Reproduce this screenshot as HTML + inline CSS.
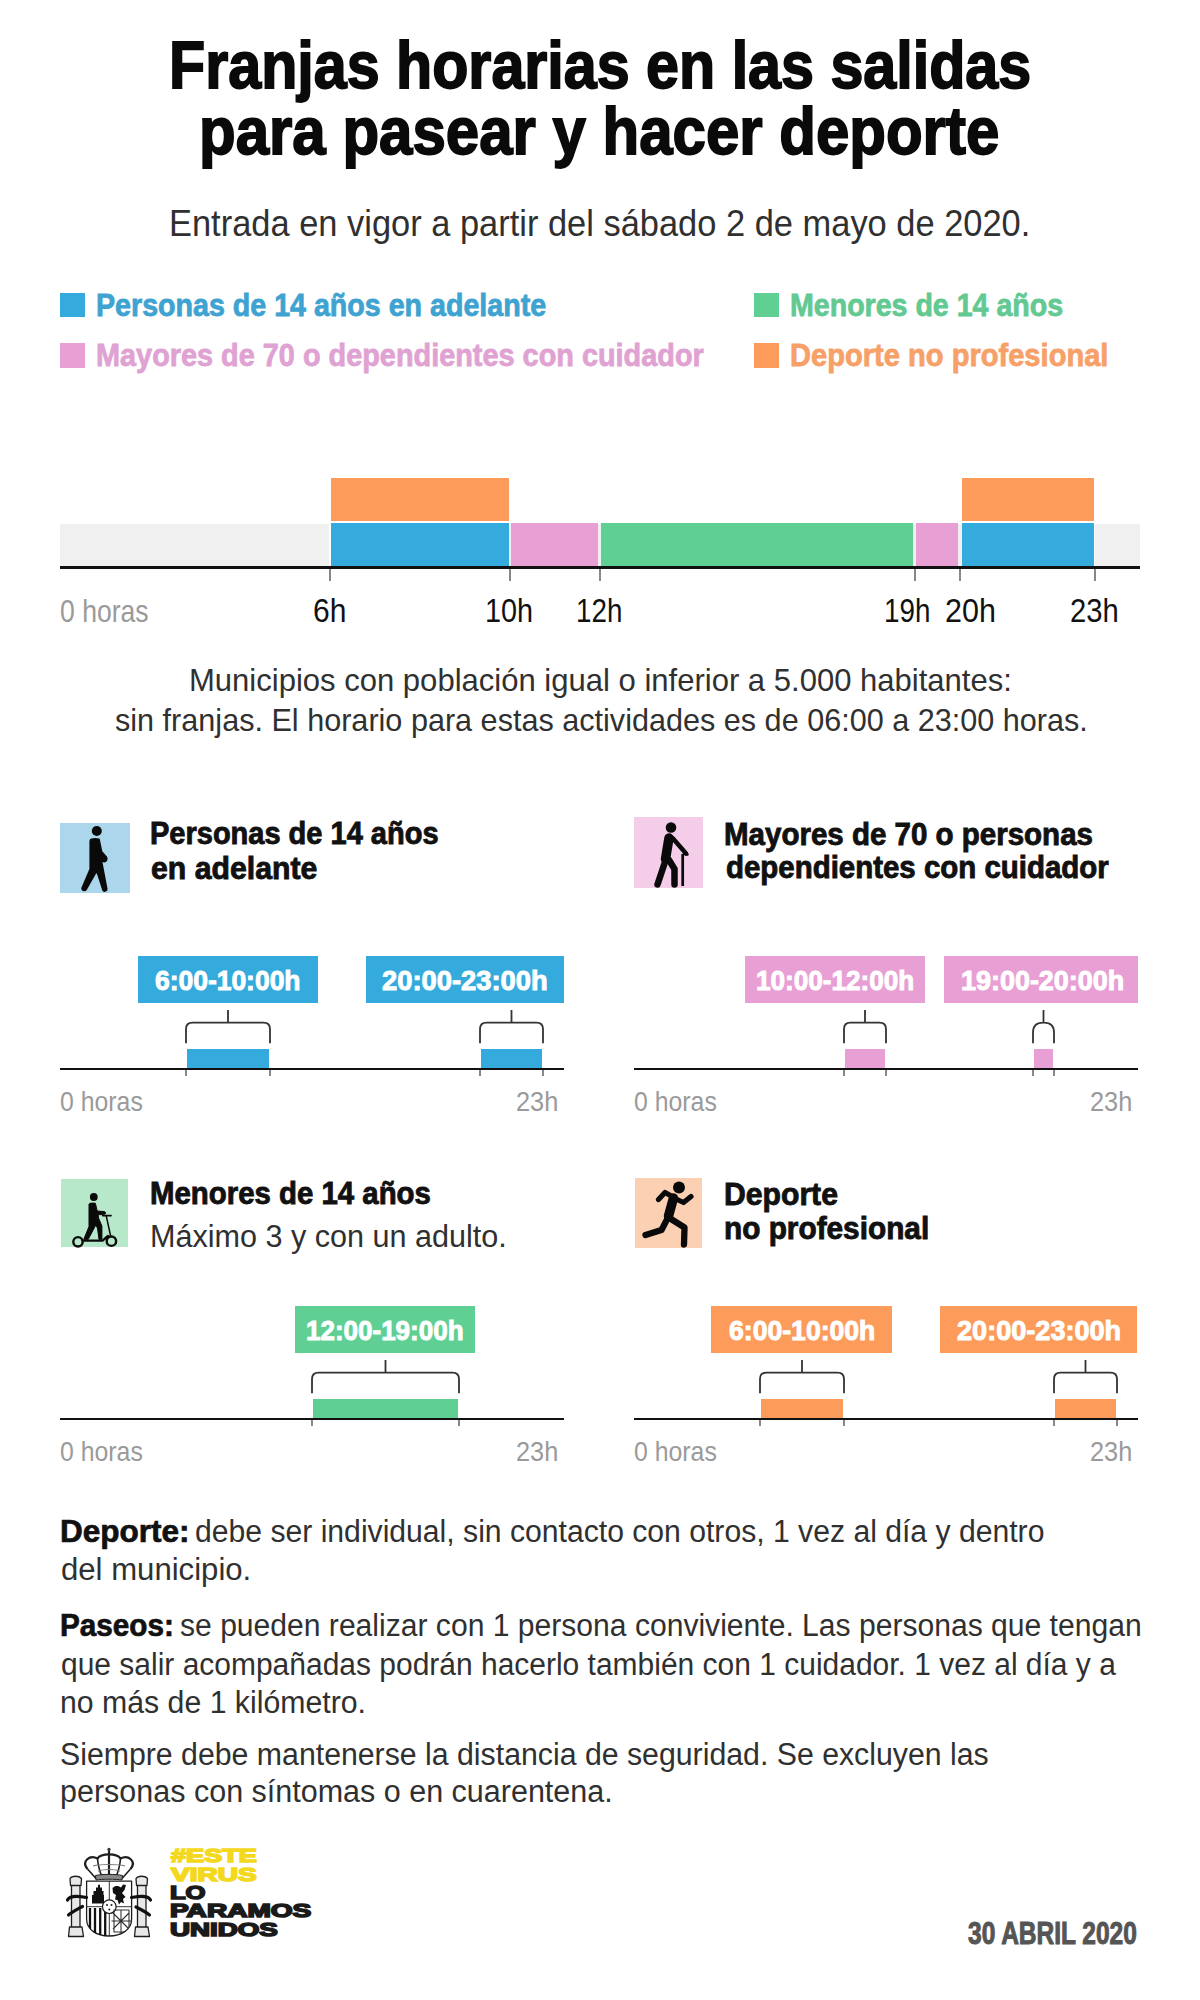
<!DOCTYPE html>
<html><head><meta charset="utf-8"><title>Franjas horarias</title><style>*{margin:0;padding:0}
html,body{width:1200px;height:2000px;background:#fff;overflow:hidden;position:relative}
.t{position:absolute;white-space:nowrap;line-height:1;font-family:"Liberation Sans",sans-serif;transform-origin:0 0}
.t b{font-weight:700;color:#111;-webkit-text-stroke:0.7px #111}
.r{position:absolute}
.s{position:absolute;overflow:visible}
</style></head>
<body>
<div class="r" style="left:60.0px;top:292.5px;width:25.0px;height:24.5px;background:#34aadd"></div>
<div class="r" style="left:60.0px;top:343.0px;width:25.0px;height:24.5px;background:#e8a0d4"></div>
<div class="r" style="left:754.0px;top:292.5px;width:24.5px;height:24.5px;background:#5fcf94"></div>
<div class="r" style="left:754.0px;top:343.0px;width:24.5px;height:24.5px;background:#fc9b5a"></div>
<div class="r" style="left:60.0px;top:523.5px;width:1080.0px;height:42.5px;background:#f0f0f0"></div>
<div class="r" style="left:330.6px;top:478.3px;width:178.0px;height:42.7px;background:#fc9b5a"></div>
<div class="r" style="left:961.5px;top:478.3px;width:132.2px;height:42.7px;background:#fc9b5a"></div>
<div class="r" style="left:330.8px;top:523.3px;width:177.8px;height:42.7px;background:#34aadd"></div>
<div class="r" style="left:511.4px;top:523.3px;width:86.9px;height:42.7px;background:#e8a0d4"></div>
<div class="r" style="left:601.2px;top:523.3px;width:312.0px;height:42.7px;background:#5fcf94"></div>
<div class="r" style="left:916.4px;top:523.3px;width:42.1px;height:42.7px;background:#e8a0d4"></div>
<div class="r" style="left:961.5px;top:523.3px;width:132.2px;height:42.7px;background:#34aadd"></div>
<div class="r" style="left:329.3px;top:523.3px;width:1.5px;height:42.2px;background:#fff"></div>
<div class="r" style="left:1093.7px;top:523.3px;width:1.6px;height:42.2px;background:#fff"></div>
<div class="r" style="left:60.0px;top:565.5px;width:1080.0px;height:3.0px;background:#111"></div>
<div class="r" style="left:329.2px;top:568.5px;width:1.5px;height:12.5px;background:#888"></div>
<div class="r" style="left:509.2px;top:568.5px;width:1.5px;height:12.5px;background:#888"></div>
<div class="r" style="left:599.2px;top:568.5px;width:1.5px;height:12.5px;background:#888"></div>
<div class="r" style="left:914.2px;top:568.5px;width:1.5px;height:12.5px;background:#888"></div>
<div class="r" style="left:959.2px;top:568.5px;width:1.5px;height:12.5px;background:#888"></div>
<div class="r" style="left:1094.2px;top:568.5px;width:1.5px;height:12.5px;background:#888"></div>
<div class="r" style="left:60.0px;top:1068.0px;width:504.0px;height:2.0px;background:#111"></div>
<div class="r" style="left:187.2px;top:1049.3px;width:81.6px;height:19.2px;background:#34aadd"></div>
<div class="r" style="left:185.4px;top:1070.0px;width:1.2px;height:5.5px;background:#888"></div>
<div class="r" style="left:269.4px;top:1070.0px;width:1.2px;height:5.5px;background:#888"></div>
<div class="r" style="left:481.2px;top:1049.3px;width:60.6px;height:19.2px;background:#34aadd"></div>
<div class="r" style="left:479.4px;top:1070.0px;width:1.2px;height:5.5px;background:#888"></div>
<div class="r" style="left:542.4px;top:1070.0px;width:1.2px;height:5.5px;background:#888"></div>
<svg class="s" width="1200" height="2000" style="left:0;top:0"><g fill="none" stroke="#333" stroke-width="1.8"><path d="M186.0 1043.3 V1029.1 Q186.0 1022.6 192.5 1022.6 H263.5 Q270.0 1022.6 270.0 1029.1 V1043.3 M228.0 1022.6 V1010" /><path d="M480.0 1043.3 V1029.1 Q480.0 1022.6 486.5 1022.6 H536.5 Q543.0 1022.6 543.0 1029.1 V1043.3 M511.5 1022.6 V1010" /></g></svg>
<div class="r" style="left:137.5px;top:956.0px;width:180.5px;height:47.0px;background:#34aadd"></div>
<div class="r" style="left:365.6px;top:956.0px;width:198.0px;height:47.0px;background:#34aadd"></div>
<div class="r" style="left:634.0px;top:1068.0px;width:504.0px;height:2.0px;background:#111"></div>
<div class="r" style="left:845.2px;top:1049.3px;width:39.6px;height:19.2px;background:#e8a0d4"></div>
<div class="r" style="left:843.4px;top:1070.0px;width:1.2px;height:5.5px;background:#888"></div>
<div class="r" style="left:885.4px;top:1070.0px;width:1.2px;height:5.5px;background:#888"></div>
<div class="r" style="left:1034.2px;top:1049.3px;width:18.6px;height:19.2px;background:#e8a0d4"></div>
<div class="r" style="left:1032.4px;top:1070.0px;width:1.2px;height:5.5px;background:#888"></div>
<div class="r" style="left:1053.4px;top:1070.0px;width:1.2px;height:5.5px;background:#888"></div>
<svg class="s" width="1200" height="2000" style="left:0;top:0"><g fill="none" stroke="#333" stroke-width="1.8"><path d="M844.0 1043.3 V1029.1 Q844.0 1022.6 850.5 1022.6 H879.5 Q886.0 1022.6 886.0 1029.1 V1043.3 M865.0 1022.6 V1010" /><path d="M1033.0 1043.3 V1032.575 Q1033.0 1022.6 1043.0 1022.6 H1044.0 Q1054.0 1022.6 1054.0 1032.575 V1043.3 M1043.5 1022.6 V1010" /></g></svg>
<div class="r" style="left:744.7px;top:956.0px;width:180.3px;height:47.0px;background:#e8a0d4"></div>
<div class="r" style="left:944.2px;top:956.0px;width:193.6px;height:47.0px;background:#e8a0d4"></div>
<div class="r" style="left:60.0px;top:1418.0px;width:504.0px;height:2.0px;background:#111"></div>
<div class="r" style="left:313.2px;top:1399.3px;width:144.6px;height:19.2px;background:#5fcf94"></div>
<div class="r" style="left:311.4px;top:1420.0px;width:1.2px;height:5.5px;background:#888"></div>
<div class="r" style="left:458.4px;top:1420.0px;width:1.2px;height:5.5px;background:#888"></div>
<svg class="s" width="1200" height="2000" style="left:0;top:0"><g fill="none" stroke="#333" stroke-width="1.8"><path d="M312.0 1393.3 V1379.1 Q312.0 1372.6 318.5 1372.6 H452.5 Q459.0 1372.6 459.0 1379.1 V1393.3 M385.5 1372.6 V1360" /></g></svg>
<div class="r" style="left:295.0px;top:1306.0px;width:180.0px;height:47.0px;background:#5fcf94"></div>
<div class="r" style="left:634.0px;top:1418.0px;width:504.0px;height:2.0px;background:#111"></div>
<div class="r" style="left:761.2px;top:1399.3px;width:81.6px;height:19.2px;background:#fc9b5a"></div>
<div class="r" style="left:759.4px;top:1420.0px;width:1.2px;height:5.5px;background:#888"></div>
<div class="r" style="left:843.4px;top:1420.0px;width:1.2px;height:5.5px;background:#888"></div>
<div class="r" style="left:1055.2px;top:1399.3px;width:60.6px;height:19.2px;background:#fc9b5a"></div>
<div class="r" style="left:1053.4px;top:1420.0px;width:1.2px;height:5.5px;background:#888"></div>
<div class="r" style="left:1116.4px;top:1420.0px;width:1.2px;height:5.5px;background:#888"></div>
<svg class="s" width="1200" height="2000" style="left:0;top:0"><g fill="none" stroke="#333" stroke-width="1.8"><path d="M760.0 1393.3 V1379.1 Q760.0 1372.6 766.5 1372.6 H837.5 Q844.0 1372.6 844.0 1379.1 V1393.3 M802.0 1372.6 V1360" /><path d="M1054.0 1393.3 V1379.1 Q1054.0 1372.6 1060.5 1372.6 H1110.5 Q1117.0 1372.6 1117.0 1379.1 V1393.3 M1085.5 1372.6 V1360" /></g></svg>
<div class="r" style="left:711.0px;top:1306.0px;width:180.5px;height:47.0px;background:#fc9b5a"></div>
<div class="r" style="left:939.5px;top:1306.0px;width:197.0px;height:47.0px;background:#fc9b5a"></div>
<div class="r" style="left:60.0px;top:822.7px;width:69.7px;height:70.0px;background:#acd6ec"></div>
<div class="r" style="left:634.0px;top:816.7px;width:69.3px;height:71.0px;background:#f4cde9"></div>
<div class="r" style="left:61.3px;top:1178.7px;width:67.0px;height:68.3px;background:#b7e8c9"></div>
<div class="r" style="left:635.0px;top:1178.3px;width:67.0px;height:69.4px;background:#fcd0b3"></div>
<svg class="s" style="left:60px;top:822.7px" width="70" height="70" viewBox="0 0 70 70"><g fill="#0a0a0a" stroke="#0a0a0a" stroke-width="1.6" stroke-linejoin="round" stroke-linecap="round">
<circle cx="36.8" cy="8" r="5" stroke="none"/>
<path d="M31.5 16.3 C33 15.8 37 15.8 39 16.2 L41.5 28.5 L46.3 34 C47.5 35.5 46.5 38.5 44.2 38.8 L41.5 37.8 L42.7 44.5 L46.8 66.2 C47 68.3 43.5 68.8 43 67 L37.5 50 L36 49.2 L26.2 66.3 C25 68.3 21.5 67.6 22.2 64.8 L30.2 46 L30.2 18 C30.3 17 30.8 16.5 31.5 16.3 Z"/>
</g></svg>
<svg class="s" style="left:634px;top:816.7px" width="70" height="71" viewBox="0 0 70 71"><g stroke="#0a0a0a" stroke-linecap="round" stroke-linejoin="round" fill="none">
<circle cx="37" cy="10.5" r="5.3" fill="#0a0a0a" stroke="none"/>
<path d="M35 21 L31.5 42" stroke-width="9.5"/>
<path d="M39 21.5 L52 36.5" stroke-width="4.5"/>
<path d="M48.7 37 V69" stroke-width="2.7" stroke-linecap="butt"/>
<path d="M50 37 Q52 35.5 53.5 37.5" stroke-width="2.5"/>
<path d="M31 45 L23.5 67.5" stroke-width="6.5"/>
<path d="M35 43 L40.5 52 V67.5" stroke-width="6.5"/>
</g></svg>
<svg class="s" style="left:61.3px;top:1178.7px" width="67" height="68" viewBox="0 0 67 68"><g stroke="#0a0a0a" stroke-linecap="round" stroke-linejoin="round" fill="none">
<circle cx="32.8" cy="18" r="3.9" fill="#0a0a0a" stroke="none"/>
<path d="M29 24.3 C30.5 24 33 24 34.4 24.3 L36.2 32 L43.2 32.6 C45 33 45 34.8 43.6 35.2 L37.2 35.8 L37.5 39 L40.9 47 V60.2 L38 60.4 L36.5 49 L34.5 46.5 L27.2 60.4 L22.8 60.3 L28 47.5 V25.5 Z" fill="#0a0a0a" stroke="#0a0a0a" stroke-width="1"/>
<path d="M41.7 36.6 H50" stroke-width="1.8"/>
<path d="M45.2 36.6 L49.5 56.5" stroke-width="1.5"/>
<path d="M21.5 61.6 H41.5 L47 57" stroke-width="2.4"/>
<circle cx="17" cy="62.8" r="4.7" stroke-width="2.4"/>
<circle cx="50.4" cy="62.2" r="4.7" stroke-width="2.4"/>
</g></svg>
<svg class="s" style="left:635px;top:1178.3px" width="67" height="70" viewBox="0 0 67 70"><g stroke="#0a0a0a" stroke-linecap="round" stroke-linejoin="round" fill="none">
<circle cx="44" cy="9.5" r="6" fill="#0a0a0a" stroke="none"/>
<path d="M38.5 20 L33.5 38" stroke-width="9.5"/>
<path d="M39 19.5 L30 14.5 L23.5 21.5" stroke-width="5.2"/>
<path d="M40 20.5 L48.5 24.5 L56 18.5" stroke-width="5.2"/>
<path d="M32.5 40.5 L26.5 52 L10.5 57" stroke-width="6.3"/>
<path d="M36 41 L49.5 49.5 L49 66.5" stroke-width="6.3"/>
</g></svg>
<svg class="s" style="left:60px;top:1840px" width="100" height="105" viewBox="0 0 100 105"><g stroke="#1e1e1e" fill="none" stroke-width="1.2" stroke-linejoin="round">
<circle cx="49" cy="9.3" r="1.6" fill="#333" stroke="none"/>
<path d="M49 10.5 V36" stroke-width="2.2"/>
<path d="M27.5 29 C21 21 30 14.5 37.5 18.5 C41 13 57 13 60.5 18.5 C68 14.5 77 21 70.5 29" stroke-width="2.2"/>
<path d="M27.5 29 L36 38.5 M70.5 29 L62 38.5 M37.5 18.5 C38 26 40 32 42 37 M60.5 18.5 C60 26 58 32 56 37" stroke-width="1.6"/>
<path d="M33 26 C40 24 58 24 65 26" stroke="#777" stroke-width="1.2"/>
<path d="M38 31 C44 29 54 29 60 31" stroke="#777" stroke-width="1.2"/>
<path d="M35.5 35.5 C42 34 56 34 62.5 35.5 L62 40 C56 39 42 39 36 40 Z" fill="#888" stroke-width="1"/>
<path d="M26.6 41.2 H71.6 V79 C71.6 90 61 96 49 96 C37 96 26.6 90 26.6 79 Z" stroke-width="1.3"/>
<path d="M49.3 41.2 V96 M26.6 66.7 H71.6" stroke-width="0.9"/>
<path d="M32 63.5 V55 H33.5 V51 H36 V47.5 H38 V44.8 H40 V47.5 H42 V51 H43.5 V55 H44 V63.5 Z" fill="#111" stroke="none"/>
<path d="M52.5 48 C55 45 59 45.5 61 47.5 L63 44.5 L66 45 L64.5 50 L62 53 L65.5 57 L63 59 L64 63.5 L61 62 L59 64.5 L57.5 60 L55 59.5 L56 55 L53 53 Z" fill="#111" stroke="none"/>
<clipPath id="shc"><path d="M26.6 41.2 H71.6 V79 C71.6 90 61 96 49 96 C37 96 26.6 90 26.6 79 Z"/></clipPath><path clip-path="url(#shc)" d="M30 68 V96 M35 68 V96 M40.2 68 V96 M45.2 68 V96" stroke="#111" stroke-width="2.3"/>
<circle cx="49.3" cy="66.7" r="6.8" fill="#fff" stroke-width="1.2"/>
<circle cx="47" cy="65" r="1" fill="#222" stroke="none"/><circle cx="51.5" cy="65" r="1" fill="#222" stroke="none"/><circle cx="49.3" cy="69.5" r="1" fill="#222" stroke="none"/>
<path clip-path="url(#shc)" d="M53 73 L69 89 M53 89 L69 73 M61 70 V96 M51.5 81 H72 M54 70 H69 V92 H54 Z" stroke-width="1.1" stroke="#333"/>
<path d="M10 38.5 C12 35.5 19 35.5 21.5 38.5 L21 45.5 H10.5 Z M11.5 45.5 H20 V87 H11.5 Z M9.5 87 H22 L23.5 96.5 H8.5 Z" fill="#e8e8e8" stroke-width="1.3"/>
<path d="M76 38.5 C78 35.5 85 35.5 87.5 38.5 L87 45.5 H76.5 Z M77.5 45.5 H86 V87 H77.5 Z M75.5 87 H88 L89.5 96.5 H74.5 Z" fill="#e8e8e8" stroke-width="1.3"/>
<path d="M7.5 60 C10 55 18 56 26.5 57.5 M8.5 75 C12 72 18 69 22.5 66.5" stroke="#111" stroke-width="3.2" stroke-linecap="round"/>
<path d="M71.5 57.5 C80 56 88 55 90.5 60 M76 67 C80 69 86 72 89.5 75" stroke="#111" stroke-width="3.2" stroke-linecap="round"/>
</g></svg>
<div class="t" style="left:169.35px;top:31.12px;font-size:67px;font-weight:700;color:#0a0a0a;transform:scaleX(0.8836);-webkit-text-stroke:1.8px #0a0a0a">Franjas horarias en las salidas</div>
<div class="t" style="left:199.31px;top:97.12px;font-size:67px;font-weight:700;color:#0a0a0a;transform:scaleX(0.8954);-webkit-text-stroke:1.8px #0a0a0a">para pasear y hacer deporte</div>
<div class="t" style="left:169.13px;top:205.65px;font-size:36px;font-weight:400;color:#303030;transform:scaleX(0.9564);-webkit-text-stroke:0px #303030">Entrada en vigor a partir del sábado 2 de mayo de 2020.</div>
<div class="t" style="left:96.21px;top:289.42px;font-size:32px;font-weight:700;color:#3ea3d0;transform:scaleX(0.8942);-webkit-text-stroke:0.8px #3ea3d0">Personas de 14 años en adelante</div>
<div class="t" style="left:96.20px;top:339.42px;font-size:32px;font-weight:700;color:#e0a2d2;transform:scaleX(0.9018);-webkit-text-stroke:0.8px #e0a2d2">Mayores de 70 o dependientes con cuidador</div>
<div class="t" style="left:789.71px;top:289.42px;font-size:32px;font-weight:700;color:#63c992;transform:scaleX(0.8927);-webkit-text-stroke:0.8px #63c992">Menores de 14 años</div>
<div class="t" style="left:789.68px;top:339.42px;font-size:32px;font-weight:700;color:#f7a068;transform:scaleX(0.9092);-webkit-text-stroke:0.8px #f7a068">Deporte no profesional</div>
<div class="t" style="left:60.13px;top:596.29px;font-size:30.5px;font-weight:400;color:#9a9a9a;transform:scaleX(0.8700);-webkit-text-stroke:0px #9a9a9a">0 horas</div>
<div class="t" style="left:313.24px;top:593.34px;font-size:34px;font-weight:400;color:#111111;transform:scaleX(0.8824);-webkit-text-stroke:0px #111111">6h</div>
<div class="t" style="left:485.46px;top:593.34px;font-size:34px;font-weight:400;color:#111111;transform:scaleX(0.8462);-webkit-text-stroke:0px #111111">10h</div>
<div class="t" style="left:575.55px;top:593.34px;font-size:34px;font-weight:400;color:#111111;transform:scaleX(0.8173);-webkit-text-stroke:0px #111111">12h</div>
<div class="t" style="left:883.55px;top:593.34px;font-size:34px;font-weight:400;color:#111111;transform:scaleX(0.8173);-webkit-text-stroke:0px #111111">19h</div>
<div class="t" style="left:945.21px;top:593.34px;font-size:34px;font-weight:400;color:#111111;transform:scaleX(0.8962);-webkit-text-stroke:0px #111111">20h</div>
<div class="t" style="left:1070.28px;top:593.34px;font-size:34px;font-weight:400;color:#111111;transform:scaleX(0.8585);-webkit-text-stroke:0px #111111">23h</div>
<div class="t" style="left:188.97px;top:664.79px;font-size:30.5px;font-weight:400;color:#303030;transform:scaleX(1.0174);-webkit-text-stroke:0px #303030">Municipios con población igual o inferior a 5.000 habitantes:</div>
<div class="t" style="left:115.00px;top:704.79px;font-size:30.5px;font-weight:400;color:#303030;transform:scaleX(1.0031);-webkit-text-stroke:0px #303030">sin franjas. El horario para estas actividades es de 06:00 a 23:00 horas.</div>
<div class="t" style="left:149.86px;top:818.45px;font-size:31.5px;font-weight:700;color:#111111;transform:scaleX(0.9206);-webkit-text-stroke:0.9px #111111">Personas de 14 años</div>
<div class="t" style="left:150.74px;top:853.45px;font-size:31.5px;font-weight:700;color:#111111;transform:scaleX(0.9593);-webkit-text-stroke:0.9px #111111">en adelante</div>
<div class="t" style="left:723.93px;top:819.45px;font-size:31.5px;font-weight:700;color:#111111;transform:scaleX(0.9366);-webkit-text-stroke:0.9px #111111">Mayores de 70 o personas</div>
<div class="t" style="left:725.87px;top:851.75px;font-size:31.5px;font-weight:700;color:#111111;transform:scaleX(0.9345);-webkit-text-stroke:0.9px #111111">dependientes con cuidador</div>
<div class="t" style="left:150.13px;top:1178.45px;font-size:31.5px;font-weight:700;color:#111111;transform:scaleX(0.9329);-webkit-text-stroke:0.9px #111111">Menores de 14 años</div>
<div class="t" style="left:150.03px;top:1220.87px;font-size:31px;font-weight:400;color:#303030;transform:scaleX(0.9860);-webkit-text-stroke:0px #303030">Máximo 3 y con un adulto.</div>
<div class="t" style="left:724.09px;top:1179.45px;font-size:31.5px;font-weight:700;color:#111111;transform:scaleX(0.9573);-webkit-text-stroke:0.9px #111111">Deporte</div>
<div class="t" style="left:723.71px;top:1213.45px;font-size:31.5px;font-weight:700;color:#111111;transform:scaleX(0.9455);-webkit-text-stroke:0.9px #111111">no profesional</div>
<div class="t" style="left:60.13px;top:1087.17px;font-size:28.5px;font-weight:400;color:#9a9a9a;transform:scaleX(0.8710);-webkit-text-stroke:0px #9a9a9a">0 horas</div>
<div class="t" style="left:515.81px;top:1087.27px;font-size:28.5px;font-weight:400;color:#9a9a9a;transform:scaleX(0.8889);-webkit-text-stroke:0px #9a9a9a">23h</div>
<div class="t" style="left:634.13px;top:1087.17px;font-size:28.5px;font-weight:400;color:#9a9a9a;transform:scaleX(0.8710);-webkit-text-stroke:0px #9a9a9a">0 horas</div>
<div class="t" style="left:1089.81px;top:1087.27px;font-size:28.5px;font-weight:400;color:#9a9a9a;transform:scaleX(0.8889);-webkit-text-stroke:0px #9a9a9a">23h</div>
<div class="t" style="left:60.13px;top:1437.17px;font-size:28.5px;font-weight:400;color:#9a9a9a;transform:scaleX(0.8710);-webkit-text-stroke:0px #9a9a9a">0 horas</div>
<div class="t" style="left:515.81px;top:1437.27px;font-size:28.5px;font-weight:400;color:#9a9a9a;transform:scaleX(0.8889);-webkit-text-stroke:0px #9a9a9a">23h</div>
<div class="t" style="left:634.13px;top:1437.17px;font-size:28.5px;font-weight:400;color:#9a9a9a;transform:scaleX(0.8710);-webkit-text-stroke:0px #9a9a9a">0 horas</div>
<div class="t" style="left:1089.81px;top:1437.27px;font-size:28.5px;font-weight:400;color:#9a9a9a;transform:scaleX(0.8889);-webkit-text-stroke:0px #9a9a9a">23h</div>
<div class="t" style="left:155.00px;top:966.27px;font-size:28.5px;font-weight:700;color:#fff;transform:scaleX(0.9276);-webkit-text-stroke:1px #fff">6:00-10:00h</div>
<div class="t" style="left:382.00px;top:966.27px;font-size:28.5px;font-weight:700;color:#fff;transform:scaleX(0.9593);-webkit-text-stroke:1px #fff">20:00-23:00h</div>
<div class="t" style="left:755.78px;top:966.27px;font-size:28.5px;font-weight:700;color:#fff;transform:scaleX(0.9158);-webkit-text-stroke:1px #fff">10:00-12:00h</div>
<div class="t" style="left:960.75px;top:966.27px;font-size:28.5px;font-weight:700;color:#fff;transform:scaleX(0.9450);-webkit-text-stroke:1px #fff">19:00-20:00h</div>
<div class="t" style="left:306.09px;top:1316.27px;font-size:28.5px;font-weight:700;color:#fff;transform:scaleX(0.9123);-webkit-text-stroke:1px #fff">12:00-19:00h</div>
<div class="t" style="left:728.60px;top:1316.27px;font-size:28.5px;font-weight:700;color:#fff;transform:scaleX(0.9333);-webkit-text-stroke:1px #fff">6:00-10:00h</div>
<div class="t" style="left:956.50px;top:1316.27px;font-size:28.5px;font-weight:700;color:#fff;transform:scaleX(0.9506);-webkit-text-stroke:1px #fff">20:00-23:00h</div>
<div class="t" style="left:59.97px;top:1516.37px;font-size:31px;font-weight:700;color:#111111;transform:scaleX(1.0163);-webkit-text-stroke:0.7px #111111">Deporte:</div>
<div class="t" style="left:195.23px;top:1516.37px;font-size:31px;font-weight:400;color:#303030;transform:scaleX(0.9722);-webkit-text-stroke:0px #303030">debe ser individual, sin contacto con otros, 1 vez al día y dentro</div>
<div class="t" style="left:61.00px;top:1553.87px;font-size:31px;font-weight:400;color:#303030;transform:scaleX(1.0038);-webkit-text-stroke:0px #303030">del municipio.</div>
<div class="t" style="left:60.08px;top:1610.37px;font-size:31px;font-weight:700;color:#111111;transform:scaleX(0.9579);-webkit-text-stroke:0.7px #111111">Paseos:</div>
<div class="t" style="left:180.23px;top:1610.37px;font-size:31px;font-weight:400;color:#303030;transform:scaleX(0.9704);-webkit-text-stroke:0px #303030">se pueden realizar con 1 persona conviviente. Las personas que tengan</div>
<div class="t" style="left:61.03px;top:1648.67px;font-size:31px;font-weight:400;color:#303030;transform:scaleX(0.9670);-webkit-text-stroke:0px #303030">que salir acompañadas podrán hacerlo también con 1 cuidador. 1 vez al día y a</div>
<div class="t" style="left:60.05px;top:1686.57px;font-size:31px;font-weight:400;color:#303030;transform:scaleX(0.9757);-webkit-text-stroke:0px #303030">no más de 1 kilómetro.</div>
<div class="t" style="left:60.05px;top:1739.07px;font-size:31px;font-weight:400;color:#303030;transform:scaleX(0.9763);-webkit-text-stroke:0px #303030">Siempre debe mantenerse la distancia de seguridad. Se excluyen las</div>
<div class="t" style="left:60.03px;top:1776.17px;font-size:31px;font-weight:400;color:#303030;transform:scaleX(0.9838);-webkit-text-stroke:0px #303030">personas con síntomas o en cuarentena.</div>
<div class="t" style="left:968.00px;top:1918.29px;font-size:30.5px;font-weight:700;color:#555555;transform:scaleX(0.8033);-webkit-text-stroke:1px #555555">30 ABRIL 2020</div>
<div class="t" style="left:171.43px;top:1846.18px;font-size:19px;font-weight:900;color:#f4d820;transform:scaleX(1.4262);-webkit-text-stroke:1.6px #f4d820">#ESTE</div>
<div class="t" style="left:171.47px;top:1864.68px;font-size:19px;font-weight:900;color:#f4d820;transform:scaleX(1.4746);-webkit-text-stroke:1.6px #f4d820">VIRUS</div>
<div class="t" style="left:170.00px;top:1882.68px;font-size:19px;font-weight:900;color:#1a1a1a;transform:scaleX(1.3462);-webkit-text-stroke:1.6px #1a1a1a">LO</div>
<div class="t" style="left:170.00px;top:1901.28px;font-size:19px;font-weight:900;color:#1a1a1a;transform:scaleX(1.4760);-webkit-text-stroke:1.6px #1a1a1a">PARAMOS</div>
<div class="t" style="left:170.00px;top:1919.98px;font-size:19px;font-weight:900;color:#1a1a1a;transform:scaleX(1.4595);-webkit-text-stroke:1.6px #1a1a1a">UNIDOS</div>
</body></html>
